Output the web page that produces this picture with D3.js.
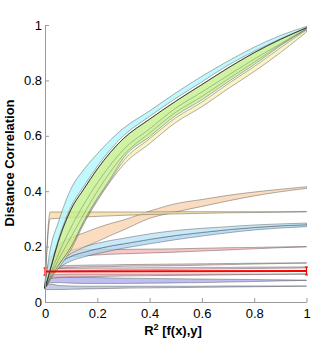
<!DOCTYPE html>
<html>
<head>
<meta charset="utf-8">
<script src="https://cdn.jsdelivr.net/npm/d3@7"></script>
<style>
body{margin:0;background:#fff}
text{font-family:Arial,"Liberation Sans",sans-serif}
</style>
</head>
<body>
<div id="chart"></div>
<script>
// noise levels (R^2) where each curve is sampled
const xs      = [0, 0.02, 0.05, 0.1, 0.15, 0.2, 0.25, 0.3, 0.4, 0.5, 0.6, 0.7, 0.8, 0.9, 1];

// upper group
const cyanHi  = [0.06, 0.19, 0.285, 0.41, 0.48, 0.535, 0.585, 0.627, 0.69, 0.755, 0.815, 0.87, 0.92, 0.962, 0.995];
const cyanLo  = [0.05, 0.12, 0.222, 0.345, 0.42, 0.49, 0.55, 0.6, 0.67, 0.735, 0.795, 0.855, 0.905, 0.95, 0.99];
const greenHi = [0.05, 0.115, 0.215, 0.335, 0.41, 0.48, 0.54, 0.59, 0.66, 0.725, 0.785, 0.845, 0.9, 0.948, 0.99];
const greenLo = [0.05, 0.085, 0.13, 0.2, 0.295, 0.375, 0.445, 0.52, 0.597, 0.673, 0.73, 0.795, 0.857, 0.925, 0.985];
const yellowHi= [0.05, 0.085, 0.13, 0.2, 0.29, 0.37, 0.44, 0.51, 0.59, 0.665, 0.722, 0.788, 0.85, 0.918, 0.982];
const yellowLo= [0.05, 0.08, 0.12, 0.19, 0.285, 0.365, 0.435, 0.495, 0.572, 0.648, 0.705, 0.77, 0.832, 0.9, 0.975];
const innerA  = [0.05, 0.1, 0.17, 0.27, 0.355, 0.43, 0.495, 0.55, 0.625, 0.7, 0.758, 0.818, 0.877, 0.932, 0.987];
const innerB  = [0.05, 0.09, 0.15, 0.235, 0.32, 0.4, 0.47, 0.53, 0.61, 0.685, 0.742, 0.805, 0.866, 0.928, 0.985];

// middle group
const orangeHi= [0.07, 0.15, 0.2, 0.232, 0.25, 0.268, 0.283, 0.296, 0.328, 0.355, 0.37, 0.385, 0.397, 0.407, 0.416];
const orangeLo= [0.05, 0.1, 0.14, 0.175, 0.198, 0.218, 0.24, 0.26, 0.302, 0.325, 0.345, 0.365, 0.383, 0.398, 0.41];
const tanHi   = [0.06, 0.325, 0.325, 0.325, 0.325, 0.325, 0.325, 0.325, 0.325, 0.326, 0.326, 0.326, 0.326, 0.326, 0.327];
const tanLo   = [0.05, 0.3, 0.302, 0.305, 0.307, 0.309, 0.311, 0.313, 0.316, 0.318, 0.32, 0.322, 0.323, 0.324, 0.325];
const blueHi  = [0.06, 0.12, 0.155, 0.185, 0.2, 0.212, 0.222, 0.23, 0.246, 0.258, 0.266, 0.272, 0.278, 0.282, 0.285];
const blueMid = [0.055, 0.1, 0.135, 0.165, 0.18, 0.192, 0.202, 0.21, 0.226, 0.24, 0.251, 0.261, 0.269, 0.275, 0.279];
const blueLo  = [0.05, 0.09, 0.12, 0.148, 0.163, 0.175, 0.185, 0.194, 0.21, 0.225, 0.238, 0.25, 0.26, 0.267, 0.272];
const pinkHi  = [0.06, 0.16, 0.185, 0.19, 0.19, 0.19, 0.19, 0.19, 0.191, 0.192, 0.194, 0.196, 0.197, 0.199, 0.2];
const pinkLo  = [0.05, 0.13, 0.155, 0.163, 0.167, 0.17, 0.172, 0.174, 0.177, 0.18, 0.184, 0.188, 0.192, 0.196, 0.199];

// lower group
const g1Hi = [0.06, 0.125, 0.13, 0.132, 0.133, 0.134, 0.134, 0.135, 0.136, 0.137, 0.138, 0.139, 0.14, 0.141, 0.142];
const g1Lo = [0.05, 0.115, 0.122, 0.125, 0.126, 0.127, 0.128, 0.129, 0.13, 0.131, 0.133, 0.135, 0.137, 0.139, 0.14];
const g5Hi = [0.055, 0.118, 0.121, 0.122, 0.122, 0.123, 0.123, 0.123, 0.124, 0.124, 0.125, 0.125, 0.126, 0.126, 0.127];
const g5Lo = [0.05, 0.105, 0.11, 0.112, 0.113, 0.114, 0.115, 0.116, 0.117, 0.118, 0.119, 0.12, 0.121, 0.122, 0.123];
const g2Hi = [0.055, 0.095, 0.1, 0.101, 0.101, 0.101, 0.101, 0.101, 0.101, 0.101, 0.101, 0.101, 0.101, 0.101, 0.102];
const g2Lo = [0.05, 0.085, 0.088, 0.09, 0.091, 0.092, 0.093, 0.094, 0.095, 0.096, 0.097, 0.098, 0.099, 0.1, 0.1];
const g3Hi = [0.055, 0.09, 0.092, 0.09, 0.089, 0.088, 0.087, 0.086, 0.085, 0.084, 0.083, 0.082, 0.081, 0.08, 0.079];
const g3Lo = [0.05, 0.07, 0.07, 0.068, 0.067, 0.067, 0.067, 0.067, 0.068, 0.069, 0.07, 0.072, 0.074, 0.076, 0.078];
const g4Hi = [0.05, 0.065, 0.06, 0.058, 0.057, 0.057, 0.057, 0.057, 0.057, 0.057, 0.057, 0.058, 0.058, 0.058, 0.058];
const g4Lo = [0.045, 0.045, 0.045, 0.046, 0.047, 0.048, 0.049, 0.05, 0.051, 0.052, 0.053, 0.054, 0.055, 0.056, 0.057];

// red reference (mean +- error)
const redX   = [0, 1];
const redY   = [0.11, 0.112];
const redErr = [0.013, 0.014];

const tickVals   = [0, 0.2, 0.4, 0.6, 0.8, 1];
const tickLabels = ["0", "0.2", "0.4", "0.6", "0.8", "1"];

const w = 329, h = 339;
const m = {left:45, right:22.5, top:25, bottom:37};

const svg = d3.select("#chart").append("svg")
  .attr("width", w).attr("height", h);

const x = d3.scaleLinear().domain([0,1]).range([m.left, w-m.right]);
const y = d3.scaleLinear().domain([0,1]).range([h-m.bottom, m.top]);

// drawing order: bottom first, top group last
const bands = [
  {lo:g4Lo, hi:g4Hi, fill:"#b8c0dc"},
  {lo:g3Lo, hi:g3Hi, fill:"#adaeee"},
  {lo:g2Lo, hi:g2Hi, fill:"#eeb0b6"},
  {lo:g5Lo, hi:g5Hi, fill:"#eec8d0"},
  {lo:g1Lo, hi:g1Hi, fill:"#dec2c8"},
  {lo:pinkLo, hi:pinkHi, fill:"#f6b8b8"},
  {lo:blueLo, hi:blueMid, fill:"#a8d6f2"},
  {lo:blueMid, hi:blueHi, fill:"#bce4f8"},
  {lo:orangeLo, hi:orangeHi, fill:"#f9d3b0"},
  {lo:tanLo, hi:tanHi, fill:"#f5dca2"},
  {lo:yellowLo, hi:yellowHi, fill:"#f7f1b4"},
  {lo:greenLo, hi:greenHi, fill:"#c4f08c"},
  {lo:cyanLo, hi:cyanHi, fill:"#b2f6fc"}
];

const area = d3.area()
  .x((d,i) => x(xs[i]))
  .y0(d => y(d[0]))
  .y1(d => y(d[1]))
  .curve(d3.curveMonotoneX);

const plot = svg.append("g");

bands.forEach(b => {
  const pts = xs.map((v,i) => [b.lo[i], b.hi[i]]);
  plot.append("path")
    .attr("d", area(pts))
    .attr("fill", b.fill)
    .attr("fill-opacity", 0.8)
    .attr("stroke", "#3c3c3c")
    .attr("stroke-opacity", 0.5)
    .attr("stroke-width", 0.8);
});

const line = d3.line()
  .x((d,i) => x(xs[i]))
  .y(d => y(d))
  .curve(d3.curveMonotoneX);

[innerA, innerB].forEach(s => {
  plot.append("path")
    .attr("d", line(s))
    .attr("fill", "none")
    .attr("stroke", "#3c3c3c")
    .attr("stroke-opacity", 0.45)
    .attr("stroke-width", 0.7);
});
// dark edge between cyan and green
plot.append("path")
  .attr("d", line(greenHi))
  .attr("fill", "none")
  .attr("stroke", "#222")
  .attr("stroke-width", 0.8);

// red reference with error bars
const redLine = d3.line().x((d,i) => x(redX[i])).y(d => y(d));
plot.append("path")
  .attr("d", redLine(redY))
  .attr("fill", "none")
  .attr("stroke", "#ff0000")
  .attr("stroke-width", 2);

redX.forEach((v,i) => {
  const g = plot.append("g").attr("stroke", "#ff0000").attr("stroke-width", 1.2);
  g.append("line")
    .attr("x1", x(v)).attr("x2", x(v))
    .attr("y1", y(redY[i]-redErr[i])).attr("y2", y(redY[i]+redErr[i]));
  [redY[i]-redErr[i], redY[i]+redErr[i]].forEach(e => {
    g.append("line")
      .attr("x1", x(v)-1.5).attr("x2", x(v)+1.5)
      .attr("y1", y(e)).attr("y2", y(e));
  });
});

// axes, MATLAB style: inward ticks, grey lines
const fmt = d => tickLabels[tickVals.indexOf(d)];

const xAxis = svg.append("g")
  .attr("transform", "translate(0," + (h-m.bottom) + ")")
  .call(d3.axisBottom(x).tickValues(tickVals).tickFormat(fmt).tickSizeInner(-4).tickSizeOuter(0).tickPadding(7));

const yAxis = svg.append("g")
  .attr("transform", "translate(" + m.left + ",0)")
  .call(d3.axisLeft(y).tickValues(tickVals).tickFormat(fmt).tickSizeInner(-4).tickSizeOuter(0).tickPadding(3));

[xAxis, yAxis].forEach(a => {
  a.select(".domain").attr("stroke", "#9a9a9a");
  a.selectAll(".tick line").attr("stroke", "#9a9a9a");
  a.selectAll(".tick text").attr("fill", "#000").style("font-size", "13px")
    .style("font-family", "Arial, 'Liberation Sans', sans-serif");
});

// axis titles
const xt = svg.append("text")
  .attr("x", 173).attr("y", 334.5)
  .attr("text-anchor", "middle")
  .style("font-size", "13px").style("font-weight", "bold");
xt.append("tspan").text("R");
xt.append("tspan").attr("dy", -5).style("font-size", "9px").text("2");
xt.append("tspan").attr("dy", 5).text(" [f(x),y]");

svg.append("text")
  .text("Distance Correlation")
  .attr("transform", "translate(14,163) rotate(-90)")
  .attr("text-anchor", "middle")
  .style("font-size", "13px").style("font-weight", "bold");
</script>
</body>
</html>
